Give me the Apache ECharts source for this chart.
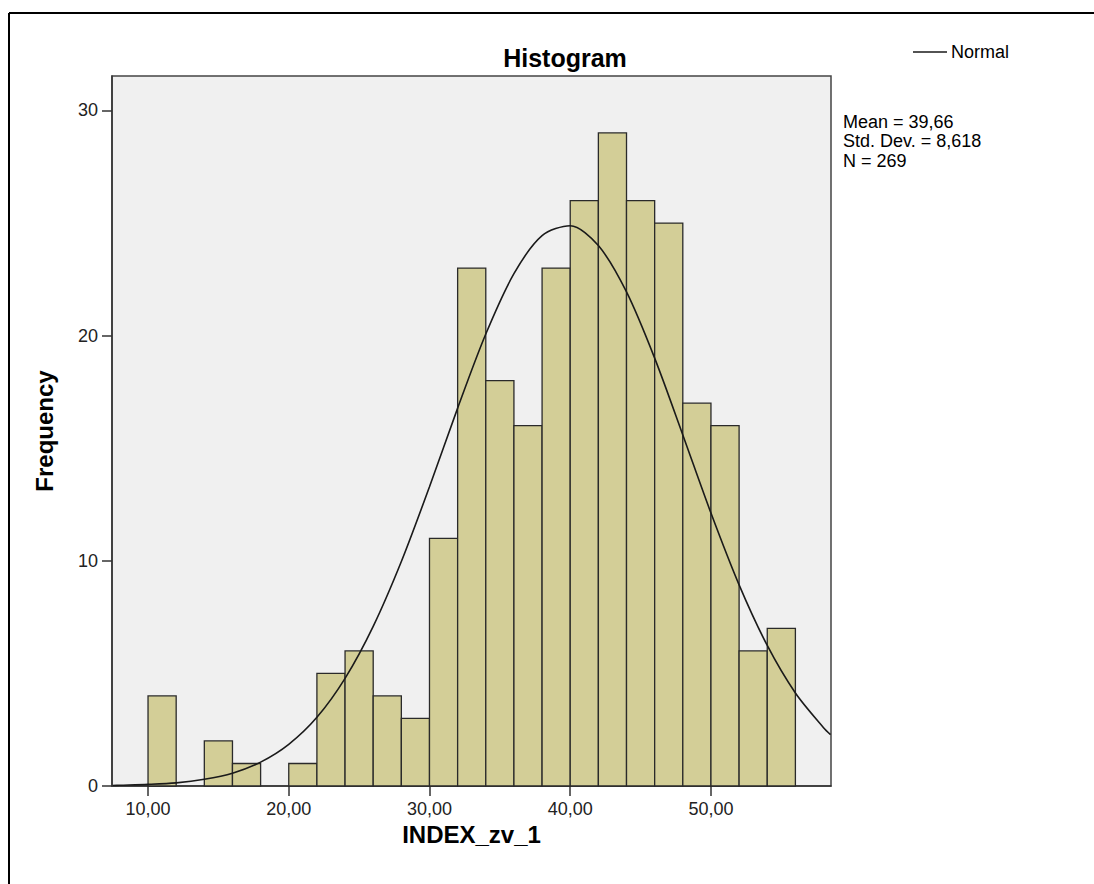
<!DOCTYPE html>
<html>
<head>
<meta charset="utf-8">
<title>Histogram</title>
<script src="https://cdn.jsdelivr.net/npm/echarts@6/dist/echarts.min.js"></script>
<style>
	html, body { margin: 0; padding: 0; background: #fff; }
	#chartDiv { width: 1094px; height: 884px; }
</style>
</head>
<body>
<div id="chartDiv"></div>
<script>
	// histogram bins (start of each 2-wide bin) and counts
	var binStarts = [10, 12, 14, 16, 18, 20, 22, 24, 26, 28, 30, 32, 34, 36, 38, 40, 42, 44, 46, 48, 50, 52, 54];
	var binCounts = [4, 0, 2, 1, 0, 1, 5, 6, 4, 3, 11, 23, 18, 16, 23, 26, 29, 26, 25, 17, 16, 6, 7];
	var binWidth = 2;

	// normal curve
	var curveX = [7.5, 8, 10, 12, 14, 16, 18, 20, 22, 24, 26, 28, 30, 32, 34, 36, 38, 40, 42, 44, 46, 48, 50, 52, 54, 56, 58, 58.5];
	var curveY = [0.02, 0.03, 0.07, 0.14, 0.3, 0.57, 1.06, 1.85, 3.05, 4.78, 7.09, 9.97, 13.29, 16.78, 20.07, 22.75, 24.44, 24.88, 24.0, 21.94, 19.0, 15.59, 12.12, 8.93, 6.24, 4.13, 2.59, 2.28];

	// axis ticks
	var xTicks = [10, 20, 30, 40, 50];
	var xTickLabels = ['10,00', '20,00', '30,00', '40,00', '50,00'];
	var yTicks = [0, 10, 20, 30];

	var statLines = ['Mean = 39,66', 'Std. Dev. = 8,618', 'N = 269'];

	var font = '"Liberation Sans", Arial, sans-serif';

	var histData = [];
	for (var i = 0; i < binStarts.length; i++) {
		histData.push([binStarts[i], binCounts[i]]);
	}
	var curveData = [];
	for (var j = 0; j < curveX.length; j++) {
		curveData.push([curveX[j], curveY[j]]);
	}

	var chart = echarts.init(document.getElementById('chartDiv'), null, { renderer: 'svg' });
	var option = {
		backgroundColor: '#fff',
		animation: false,
		title: {
			text: 'Histogram',
			left: 560,
			top: 40,
			textAlign: 'center',
			textStyle: { fontFamily: font, fontSize: 25, fontWeight: 'bold', color: '#000' }
		},
		legend: {
			data: [{ name: 'Normal', icon: 'rect' }],
			left: 908,
			top: 38,
			itemWidth: 34,
			itemHeight: 1.5,
			itemGap: 4,
			textStyle: { fontFamily: font, fontSize: 18, color: '#000', padding: [0, 0, 0, -1] }
		},
		grid: {
			left: 112,
			right: 263,
			top: 76,
			bottom: 98,
			show: true,
			backgroundColor: '#f0f0f0',
			borderColor: '#444',
			borderWidth: 1.5
		},
		xAxis: {
			type: 'value',
			min: 7.44,
			max: 58.53,
			name: 'INDEX_zv_1',
			nameLocation: 'middle',
			nameGap: 27,
			nameTextStyle: { fontFamily: font, fontSize: 24, fontWeight: 'bold', color: '#000' },
			splitLine: { show: false },
			axisLine: { lineStyle: { color: '#333', width: 1.5 } },
			axisTick: { show: true, customValues: xTicks, length: 10, lineStyle: { color: '#333', width: 1.5 } },
			axisLabel: {
				customValues: xTicks,
				fontFamily: font, fontSize: 18, color: '#222', margin: 14,
				formatter: function (v) { return xTickLabels[xTicks.indexOf(v)]; }
			}
		},
		yAxis: {
			type: 'value',
			min: 0,
			max: 31.53,
			interval: 10,
			name: 'Frequency',
			nameLocation: 'middle',
			nameGap: 56,
			nameTextStyle: { fontFamily: font, fontSize: 24, fontWeight: 'bold', color: '#000' },
			splitLine: { show: false },
			axisLine: { show: true, lineStyle: { color: '#333', width: 1.5 } },
			axisTick: { show: true, customValues: yTicks, length: 10, lineStyle: { color: '#333', width: 1.5 } },
			axisLabel: { customValues: yTicks, fontFamily: font, fontSize: 18, color: '#222', margin: 14 }
		},
		series: [{
			type: 'custom',
			name: 'Histogram',
			data: histData,
			encode: { x: 0, y: 1 },
			renderItem: function (params, api) {
				var x0 = api.value(0);
				var h = api.value(1);
				if (!h) return null;
				var p0 = api.coord([x0, h]);
				var p1 = api.coord([x0 + binWidth, 0]);
				return {
					type: 'rect',
					shape: { x: p0[0], y: p0[1], width: p1[0] - p0[0], height: p1[1] - p0[1] },
					style: { fill: '#d3ce97', stroke: '#2a2a2a', lineWidth: 1.3 }
				};
			},
			z: 2
		}, {
			type: 'line',
			name: 'Normal',
			data: curveData,
			smooth: 0.3,
			showSymbol: false,
			lineStyle: { color: '#1a1a1a', width: 1.6 },
			itemStyle: { color: '#1a1a1a' },
			z: 3
		}],
		graphic: [{
			type: 'line',
			shape: { x1: 9, y1: 13, x2: 1094, y2: 13 },
			style: { stroke: '#000', lineWidth: 2 }
		}, {
			type: 'line',
			shape: { x1: 9, y1: 13, x2: 9, y2: 884 },
			style: { stroke: '#000', lineWidth: 2 }
		}, {
			type: 'text',
			left: 843,
			top: 112,
			style: {
				text: statLines.join('\n'),
				fontFamily: font, fontSize: 18, lineHeight: 19.5, fill: '#000'
			}
		}]
	};
	chart.setOption(option);
</script>
</body>
</html>
